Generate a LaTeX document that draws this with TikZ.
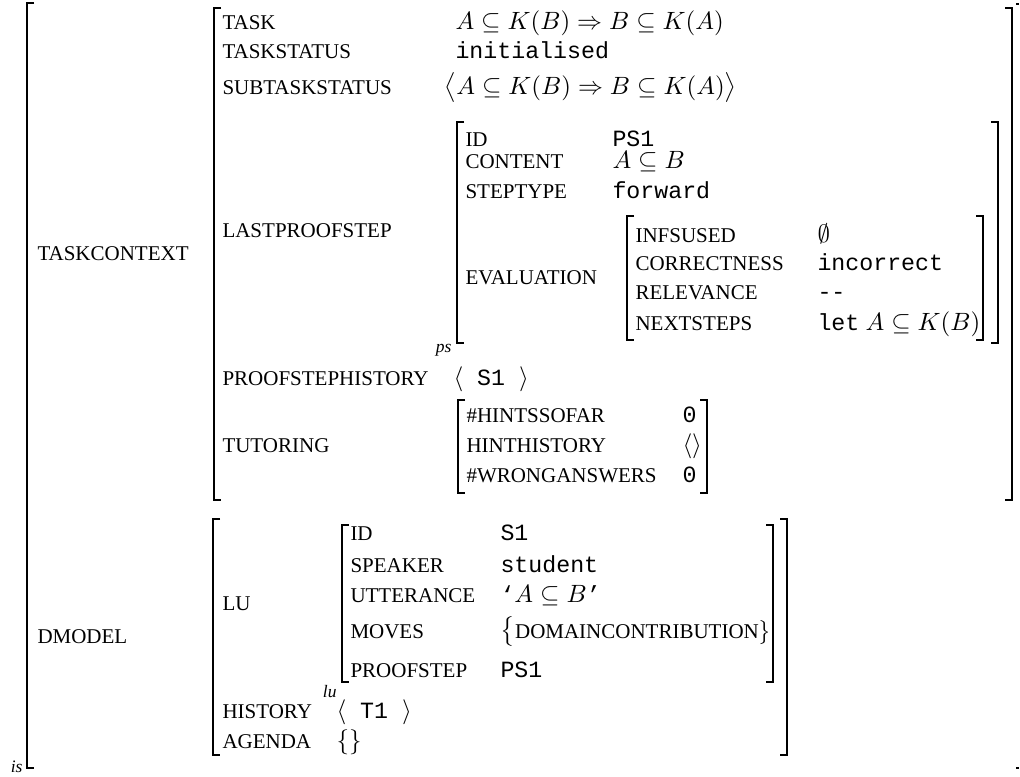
\documentclass[tikz,border=0pt]{standalone}
\usepackage[no-math]{fontspec}
\setmainfont{Liberation Serif}
\setmonofont[Scale=0.93]{Liberation Mono}
\usepackage{amsmath}
\tikzset{
  attr/.style={anchor=base west, inner sep=0pt, font=\fontsize{8.4}{9}\selectfont},
  val/.style={anchor=base west, inner sep=0pt, font=\ttfamily},
  tag/.style={anchor=base east, inner sep=0pt, font=\fontsize{7}{8}\selectfont\itshape},
  brk/.style={line width=0.6pt}
}

\begin{document}
\begin{tikzpicture}[x=0.4pt, y=-0.4pt]
\useasboundingbox (0,0) rectangle (1020,776);

% brackets: left / right / top / bottom
\draw[brk] (34,3) -| (27,768) -- (34,768);
\draw[brk] (1016,4) -- (1019,4);
\draw[brk] (1016,768) -- (1019,768);
\foreach \l/\r/\t/\b in {214/1012/8/500, 457/998/122/343, 627/983/216/340,
                         458/707/400/493, 213/787/519/755, 342/773/525/682} {
  \draw[brk] (\l+7,\t) -| (\l,\b) -- (\l+7,\b);
  \draw[brk] (\r-7,\t) -| (\r,\b) -- (\r-7,\b);
}

% top level
\node[attr] (tc) at (37,260) {TASKCONTEXT};
\node[attr] (dm) at (37,643) {DMODEL};
\node[tag] (is) at (23,772) {is};

% task context
\foreach \n/\y/\t in {task/29/TASK, tstat/58/TASKSTATUS, sub/94/SUBTASKSTATUS,
                      last/237/LASTPROOFSTEP, hist/385/PROOFSTEPHISTORY, tut/452/TUTORING}
  \node[attr] (\n) at (222,\y) {\t};
\node[val] (task-v) at (455,29) {$A\subseteq K(B)\Rightarrow B\subseteq K(A)$};
\node[val] (tstat-v) at (455,58) {initialised};
\node[val] (sub-v) at (444,94) {$\big\langle A\subseteq K(B)\Rightarrow B\subseteq K(A)\big\rangle$};
\node[val] (hist-v) at (453,385) {$\langle$ S1 $\rangle$};

% last proof step
\foreach \n/\y/\t in {id/146/ID, cont/168/CONTENT, stype/198/STEPTYPE, eval/284/EVALUATION}
  \node[attr] (\n) at (465,\y) {\t};
\node[val] (id-v) at (612,146) {PS1};
\node[val] (cont-v) at (612,168) {$A\subseteq B$};
\node[val] (stype-v) at (612,198) {forward};
\node[tag] (ps) at (452,352) {ps};

% evaluation
\foreach \n/\y/\t in {inf/242/INFSUSED, corr/270/CORRECTNESS, rel/299/RELEVANCE, next/330/NEXTSTEPS}
  \node[attr] (\n) at (635,\y) {\t};
\node[val] (inf-v) at (817,242) {$\emptyset$};
\node[val] (corr-v) at (817,270) {incorrect};
\node[val] (rel-v) at (817,299) {--};
\node[val, font=\rmfamily] (next-v) at (817,330) {\texttt{let} $A\subseteq K(B)$};

% tutoring
\foreach \n/\y/\t in {hints/422/\#HINTSSOFAR, hhist/452/HINTHISTORY, wrong/482/\#WRONGANSWERS}
  \node[attr] (\n) at (466,\y) {\t};
\node[val] (hints-v) at (682,422) {0};
\node[val] (hhist-v) at (682,452) {$\langle\rangle$};
\node[val] (wrong-v) at (682,482) {0};

% dialogue model
\foreach \n/\y/\t in {lu/610/LU, dhist/718/HISTORY, agenda/748/AGENDA}
  \node[attr] (\n) at (222,\y) {\t};
\node[val] (dhist-v) at (336,718) {$\langle$ T1 $\rangle$};
\node[val] (agenda-v) at (336,748) {$\{\}$};

% last utterance
\foreach \n/\y/\t in {luid/540/ID, spk/572/SPEAKER, utt/602/UTTERANCE, moves/638/MOVES, pstep/677/PROOFSTEP}
  \node[attr] (\n) at (350,\y) {\t};
\node[val] (luid-v) at (500,540) {S1};
\node[val] (spk-v) at (500,572) {student};
\node[val] (utt-v) at (500,602) {‘$A\subseteq B$’};
\node[val] (moves-v) at (500,638) {$\big\{$\fontsize{8.4}{9}\rmfamily DOMAINCONTRIBUTION$\big\}$};
\node[val] (pstep-v) at (500,677) {PS1};
\node[tag] (lutag) at (337,697) {lu};
\end{tikzpicture}
\end{document}
